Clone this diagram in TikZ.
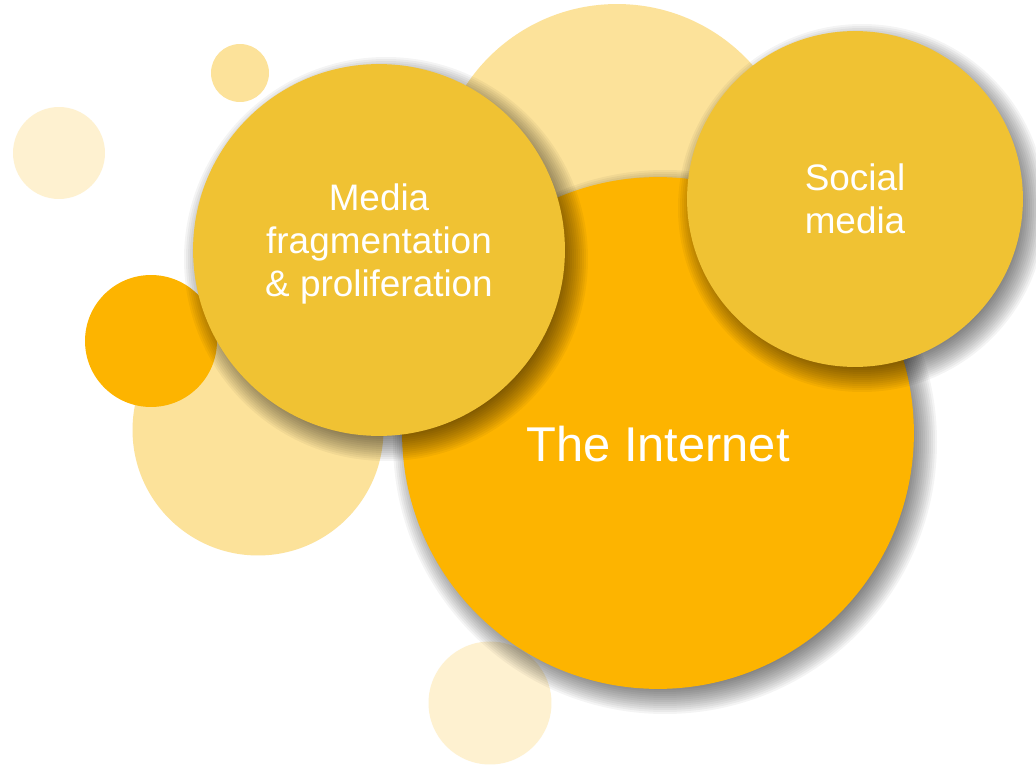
\documentclass[tikz,border=0pt]{standalone}
\usepackage{fontspec}
\setmainfont{Liberation Sans}
\usetikzlibrary{calc}
\definecolor{gold}{HTML}{F0C233}
\definecolor{amber}{HTML}{FDB400}
\definecolor{paleyellow}{HTML}{FCE29A}
\definecolor{cream}{HTML}{FEF1D0}

\begin{document}
\begin{tikzpicture}[x=0.02cm,y=-0.02cm,
      every node/.style={circle,inner sep=0pt,text=white,align=center},
      spot/.style={fill=#1},
      bubble/.style={fill=#1},
      halo/.style={fill=black,opacity=0.045},
      small text/.style={font=\fontsize{21}{24.7}\selectfont},
      big text/.style={font=\fontsize{27.8}{33}\selectfont}]
  \useasboundingbox[fill=white] (0,0) rectangle (1036,767);
  % faint spots in the back
  \node[spot=cream, minimum size=1.84cm]      (spot_a) at (59,153) {};
  \node[spot=paleyellow, minimum size=1.16cm] (spot_b) at (240,73) {};
  \node[spot=paleyellow, minimum size=5.02cm] (spot_c) at (258,430) {};
  \node[spot=paleyellow, minimum size=7.24cm] (spot_d) at (617,185) {};
  \node[spot=cream, minimum size=2.46cm]      (spot_e) at (490,703) {};
  \node[spot=amber, minimum size=2.64cm]      (spot_f) at (151,341) {};
  % the three bubbles, each over its own soft shadow
  \foreach \name/\x/\y/\r/\col in {internet/658/433/256/amber,
                                   media/379/250/186/gold,
                                   social/855/199/168/gold} {
    \foreach \d in {0,...,15}
      \fill[halo] ($(\x,\y)+(7,9)$) circle ({\r+16-2*\d});
    \node[bubble=\col, minimum size={\r*0.04cm}] (\name) at (\x,\y) {};
  }
  \node[big text] (internet_text) at ([yshift=-0.22cm]internet.center) {The Internet};
  \node[small text] (media_text) at ([yshift=0.12cm]media.center)
        {Media\\fragmentation\\\& proliferation};
  \node[small text] (social_text) at (social) {Social\\media};
\end{tikzpicture}
\end{document}
